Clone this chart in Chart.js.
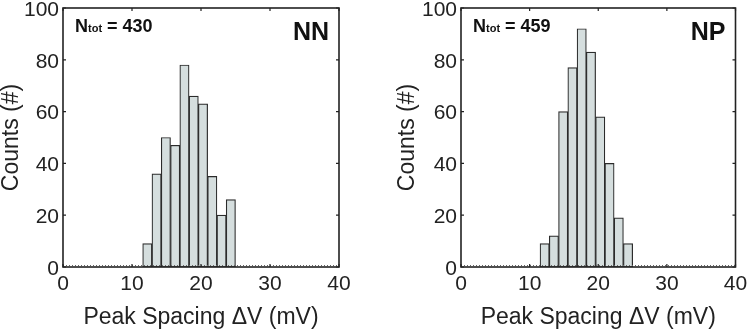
<!DOCTYPE html>
<html><head><meta charset="utf-8">
<script src="https://cdn.jsdelivr.net/npm/chart.js@4/dist/chart.umd.min.js"></script>
<style>
html,body{margin:0;padding:0;background:#fff;overflow:hidden}
#wrap{position:relative;width:747px;height:329px}
.c{position:absolute;top:0}
</style></head><body>
<div id="wrap">
<div class="c" style="left:0;width:374px;height:329px"><canvas id="cNN" width="374" height="329"></canvas></div>
<div class="c" style="left:374px;width:373px;height:329px"><canvas id="cNP" width="373" height="329"></canvas></div>
</div>
<script>
// ---- data ----
const binCentersNN = [12.22, 13.565, 14.91, 16.255, 17.6, 18.945, 20.29, 21.635, 22.98, 24.325];
const countsNN     = [9, 36, 50, 47, 78, 66, 63, 35, 20, 26];
const binCentersNP = [12.19, 13.54, 14.89, 16.24, 17.59, 18.94, 20.29, 21.64, 22.99, 24.34];
const countsNP     = [9, 12, 60, 77, 92, 83, 58, 40, 19, 9];
const xTicks = [0, 10, 20, 30, 40];
const yTicks = [0, 20, 40, 60, 80, 100];
const xTitle = 'Peak Spacing \u0394V (mV)';
const yTitle = 'Counts (#)';
const panelNames = ['NN', 'NP'];
const panelTotals = ['430', '459'];

const FONT = "'Liberation Sans', Arial, Helvetica, sans-serif";
const INK = '#222';

const framePlugin = {
  id: 'frame',
  afterDatasetsDraw(chart, args, opts) {
    const {ctx, chartArea: a, scales: {x, y}} = chart;
    ctx.save();
    // dotted baseline
    ctx.strokeStyle = '#666';
    ctx.lineWidth = 1;
    ctx.setLineDash([1, 2]);
    const y0 = Math.round(y.getPixelForValue(0)) - 1.5;
    ctx.beginPath(); ctx.moveTo(a.left, y0); ctx.lineTo(a.right, y0); ctx.stroke();
    ctx.setLineDash([]);
    // frame
    ctx.strokeStyle = INK;
    ctx.lineWidth = 1.6;
    ctx.strokeRect(a.left, a.top, a.right - a.left, a.bottom - a.top);
    // inward ticks
    ctx.lineWidth = 1.2;
    ctx.beginPath();
    xTicks.forEach(v => {
      const px = x.getPixelForValue(v);
      ctx.moveTo(px, a.bottom); ctx.lineTo(px, a.bottom - 3);
      ctx.moveTo(px, a.top); ctx.lineTo(px, a.top + 3);
    });
    yTicks.forEach(v => {
      const py = y.getPixelForValue(v);
      ctx.moveTo(a.left, py); ctx.lineTo(a.left + 3, py);
      ctx.moveTo(a.right, py); ctx.lineTo(a.right - 3, py);
    });
    ctx.stroke();
    // annotations
    ctx.fillStyle = '#111';
    ctx.textBaseline = 'alphabetic';
    ctx.textAlign = 'left';
    let tx = a.left + 12;
    const by = a.top + 23.5;
    ctx.font = 'bold 18px ' + FONT;
    ctx.fillText('N', tx, by); tx += ctx.measureText('N').width;
    ctx.font = 'bold 11px ' + FONT;
    ctx.fillText('tot', tx, by); tx += ctx.measureText('tot').width;
    ctx.font = 'bold 18px ' + FONT;
    ctx.fillText(' = ' + opts.total, tx, by);
    ctx.font = 'bold 25px ' + FONT;
    ctx.textAlign = 'right';
    ctx.fillText(opts.name, a.right - 10, a.top + 31.5);
    ctx.restore();
  }
};

function makeChart(id, centers, counts, name, total, pad, yWidth) {
  const data = centers.map((c, i) => ({x: c, y: counts[i]}));
  return new Chart(document.getElementById(id), {
    type: 'bar',
    data: {datasets: [{
      data,
      backgroundColor: '#d5dede',
      borderColor: '#2b2b2b',
      borderWidth: 1.2,
      borderSkipped: false,
      barPercentage: 1,
      categoryPercentage: 1
    }]},
    options: {
      responsive: false,
      animation: false,
      devicePixelRatio: 1,
      layout: {padding: pad},
      plugins: {legend: {display: false}, tooltip: {enabled: false}, frame: {name, total}},
      scales: {
        x: {
          type: 'linear', min: 0, max: 40, offset: false,
          grid: {display: false, drawTicks: false},
          border: {display: false},
          afterBuildTicks: s => { s.ticks = xTicks.map(v => ({value: v})); },
          ticks: {padding: 5, maxRotation: 0, autoSkip: false, color: INK, font: {family: FONT, size: 21}},
          title: {display: true, text: xTitle, color: INK, padding: 0, font: {family: FONT, size: 23, lineHeight: 1}},
          afterFit: s => { s.height = 62; s.paddingLeft = 0; s.paddingRight = 0; }
        },
        y: {
          type: 'linear', min: 0, max: 100,
          grid: {display: false, drawTicks: false},
          border: {display: false},
          afterBuildTicks: s => { s.ticks = yTicks.map(v => ({value: v})); },
          ticks: {padding: 4, color: INK, labelOffset: 2, font: {family: FONT, size: 21}},
          title: {display: true, text: yTitle, color: INK, padding: 0, font: {family: FONT, size: 23, lineHeight: 1}},
          afterFit: s => { s.width = yWidth; s.paddingTop = 0; s.paddingBottom = 0; }
        }
      }
    },
    plugins: [framePlugin]
  });
}

makeChart('cNN', binCentersNN, countsNN, panelNames[0], panelTotals[0], {left: 0, top: 8, right: 35, bottom: 0}, 63);
makeChart('cNP', binCentersNP, countsNP, panelNames[1], panelTotals[1], {left: 22, top: 8, right: 11.5, bottom: 0}, 65);
</script>
</body></html>
